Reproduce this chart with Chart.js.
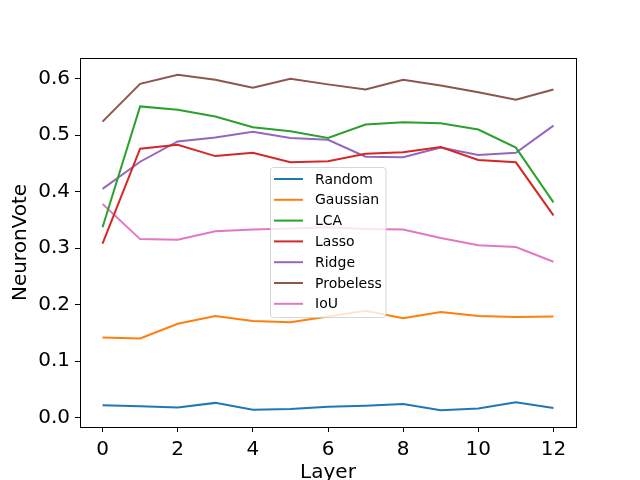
<!DOCTYPE html>
<html>
<head>
<meta charset="utf-8">
<script src="https://cdn.jsdelivr.net/npm/chart.js@4"></script>
<style>
  html, body { margin: 0; padding: 0; background: #fff; }
  #wrap { width: 640px; height: 480px; }
</style>
</head>
<body>
<div id="wrap"><canvas id="c" width="640" height="480"></canvas></div>
<script>
const layers = [0, 1, 2, 3, 4, 5, 6, 7, 8, 9, 10, 11, 12];
const seriesNames = ["Random", "Gaussian", "LCA", "Lasso", "Ridge", "Probeless", "IoU"];
const random    = [0.022, 0.020, 0.018, 0.026, 0.014, 0.015, 0.019, 0.021, 0.024, 0.013, 0.016, 0.027, 0.017];
const gaussian  = [0.142, 0.140, 0.166, 0.180, 0.171, 0.169, 0.179, 0.189, 0.176, 0.187, 0.180, 0.178, 0.179];
const lca       = [0.337, 0.551, 0.545, 0.533, 0.514, 0.507, 0.495, 0.519, 0.523, 0.521, 0.510, 0.478, 0.381];
const lasso     = [0.308, 0.476, 0.483, 0.463, 0.469, 0.452, 0.454, 0.467, 0.470, 0.479, 0.456, 0.452, 0.358];
const ridge     = [0.405, 0.453, 0.489, 0.496, 0.506, 0.495, 0.492, 0.462, 0.461, 0.478, 0.465, 0.469, 0.517];
const probeless = [0.524, 0.591, 0.607, 0.598, 0.584, 0.600, 0.590, 0.581, 0.598, 0.588, 0.576, 0.563, 0.581];
const iou       = [0.378, 0.316, 0.315, 0.330, 0.333, 0.335, 0.337, 0.334, 0.333, 0.318, 0.305, 0.302, 0.276];
const xTicks = [0, 2, 4, 6, 8, 10, 12];
const yTicks = [0.0, 0.1, 0.2, 0.3, 0.4, 0.5, 0.6];

const seriesValues = [random, gaussian, lca, lasso, ridge, probeless, iou];
const colors = ["#1f77b4", "#ff7f0e", "#2ca02c", "#d62728", "#9467bd", "#8c564b", "#e377c2"];
const FONT = "'DejaVu Sans', sans-serif";

const datasets = seriesNames.map((name, i) => ({
  label: name,
  data: layers.map((x, j) => ({ x: x, y: seriesValues[i][j] })),
  borderColor: colors[i],
  backgroundColor: colors[i],
  borderWidth: 2,
  pointRadius: 0,
  tension: 0,
  fill: false
}));

const allVals = seriesValues.flat();
const vmin = Math.min(...allVals), vmax = Math.max(...allVals);
const marg = (vmax - vmin) * 0.05;

const framePlugin = {
  id: 'frame',
  afterDraw(chart) {
    const ctx = chart.ctx, a = chart.chartArea;
    ctx.save();
    ctx.strokeStyle = '#000';
    ctx.lineWidth = 1;
    ctx.strokeRect(Math.round(a.left) + 0.5, Math.round(a.top) + 0.5,
                   Math.round(a.right - a.left), Math.round(a.bottom - a.top));
    // legend
    const bx = 270.5, by = 167.5, bw = 115.5, bh = 150, r = 3;
    ctx.fillStyle = 'rgba(255,255,255,0.8)';
    ctx.strokeStyle = 'rgba(204,204,204,0.8)';
    ctx.beginPath();
    ctx.moveTo(bx + r, by);
    ctx.lineTo(bx + bw - r, by);
    ctx.arcTo(bx + bw, by, bx + bw, by + r, r);
    ctx.lineTo(bx + bw, by + bh - r);
    ctx.arcTo(bx + bw, by + bh, bx + bw - r, by + bh, r);
    ctx.lineTo(bx + r, by + bh);
    ctx.arcTo(bx, by + bh, bx, by + bh - r, r);
    ctx.lineTo(bx, by + r);
    ctx.arcTo(bx, by, bx + r, by, r);
    ctx.closePath();
    ctx.fill();
    ctx.stroke();
    ctx.font = '14px ' + FONT;
    ctx.textBaseline = 'middle';
    ctx.textAlign = 'left';
    chart.data.datasets.forEach((ds, i) => {
      const y = 179 + i * 20.8;
      ctx.strokeStyle = ds.borderColor;
      ctx.lineWidth = 2;
      ctx.beginPath();
      ctx.moveTo(274, y);
      ctx.lineTo(303, y);
      ctx.stroke();
      ctx.fillStyle = '#000';
      ctx.fillText(ds.label, 315, y + 1);
    });
    ctx.restore();
  }
};

new Chart(document.getElementById('c'), {
  type: 'line',
  data: { datasets },
  options: {
    responsive: false,
    animation: false,
    devicePixelRatio: 1,
    layout: { padding: { top: 58, right: 64, left: 0, bottom: 0 } },
    plugins: { legend: { display: false }, tooltip: { enabled: false } },
    scales: {
      x: {
        type: 'linear',
        min: -0.6,
        max: 12.6,
        afterFit(s) { s.height = 53; },
        afterBuildTicks(s) { s.ticks = xTicks.map(v => ({ value: v })); },
        grid: { display: true, drawOnChartArea: false, drawTicks: true, tickLength: 5, color: '#000', tickColor: '#000' },
        border: { display: true, color: '#000' },
        ticks: { color: '#000', font: { family: FONT, size: 20 }, padding: 6, maxRotation: 0, callback: v => String(v) },
        title: { display: true, text: 'Layer', color: '#000', font: { family: FONT, size: 20 }, padding: { top: -6, bottom: -5 } }
      },
      y: {
        type: 'linear',
        min: vmin - marg,
        max: vmax + marg,
        afterFit(s) { s.width = 80; },
        afterBuildTicks(s) { s.ticks = yTicks.map(v => ({ value: v })); },
        grid: { display: true, drawOnChartArea: false, drawTicks: true, tickLength: 5, color: '#000', tickColor: '#000' },
        border: { display: true, color: '#000' },
        ticks: { color: '#000', font: { family: FONT, size: 20 }, padding: 5, callback: v => Number(v).toFixed(1) },
        title: { display: true, text: 'NeuronVote', color: '#000', font: { family: FONT, size: 20 }, padding: { top: 9, bottom: 0 } }
      }
    }
  },
  plugins: [framePlugin]
});
</script>
</body>
</html>
